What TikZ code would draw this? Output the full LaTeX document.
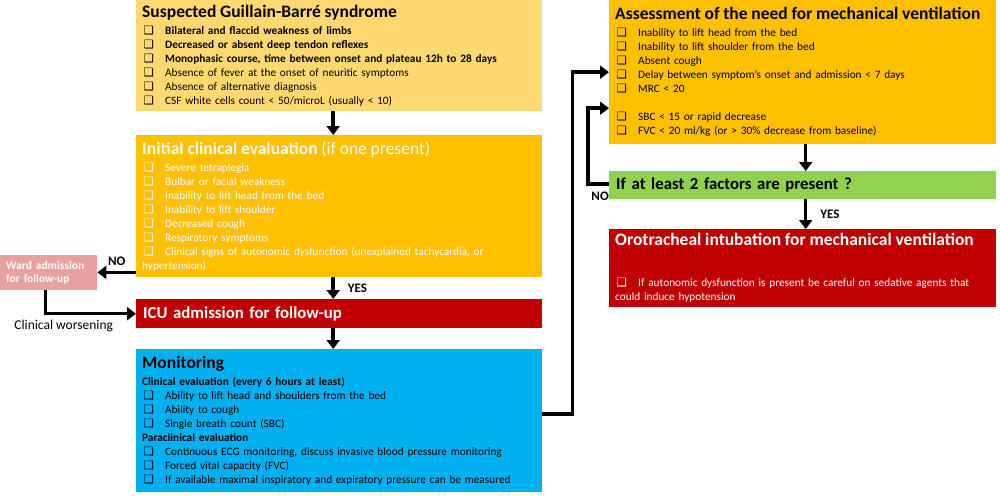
\documentclass[tikz,border=0pt]{standalone}
\usepackage{fontspec}
\setmainfont{Carlito}
\newfontfamily\dingfont{DejaVu Sans}
\usepackage{xcolor}
\usetikzlibrary{arrows.meta,positioning}
\definecolor{paleamber}{RGB}{255,217,112}
\definecolor{amber}{RGB}{255,192,0}
\definecolor{alarmred}{RGB}{192,0,0}
\definecolor{monblue}{RGB}{0,176,240}
\definecolor{leafgreen}{RGB}{146,208,80}
\definecolor{wardpink}{RGB}{232,160,160}
\newcommand{\chk}{{\dingfont\fontsize{11.5}{11.5}\selectfont ❑}}
\newcommand{\itm}[1]{\par\hangindent=23pt\hangafter=1\noindent\makebox[23pt][l]{\hspace{1.5pt}\chk}#1}
\newcommand{\boxhead}[1]{{\fontsize{17.5}{20}\selectfont\bfseries #1\par}\vspace{3pt}}
\tikzset{
  panel/.style={rectangle, anchor=north west, inner xsep=6pt, inner ysep=2pt, align=left, font=\fontsize{11.3}{14}\selectfont},
  bar/.style={rectangle, anchor=north west, inner xsep=7pt, inner ysep=0pt, align=left, font=\fontsize{16.8}{20}\selectfont\bfseries},
  arr/.style={line width=3.5pt, -{Triangle[length=9pt,width=13pt]}},
  lbl/.style={font=\fontsize{13}{15}\selectfont\bfseries, inner sep=1pt}
}

\begin{document}
\begin{tikzpicture}[x=1pt,y=-1pt]
  \useasboundingbox (0,0) rectangle (1000,495);

  % Left column
  \node[panel, fill=paleamber, text width=394pt, minimum height=111pt] (sgb) at (136,0) {%
    \boxhead{Suspected Guillain-Barré syndrome}%
    \itm{\textbf{Bilateral and flaccid weakness of limbs}}
    \itm{\textbf{Decreased or absent deep tendon reflexes}}
    \itm{\textbf{Monophasic course, time between onset and plateau 12h to 28 days}}
    \itm{Absence of fever at the onset of neuritic symptoms}
    \itm{Absence of alternative diagnosis}
    \itm{CSF white cells count < 50/microL (usually < 10)}};
  \node[panel, fill=amber, text=white, text width=394pt, minimum height=142pt] (ice) at (136,135) {%
    \boxhead{Initial clinical evaluation \mdseries(if one present)}%
    \itm{Severe tetraplegia}
    \itm{Bulbar or facial weakness}
    \itm{Inability to lift head from the bed}
    \itm{Inability to lift shoulder}
    \itm{Decreased cough}
    \itm{Respiratory symptoms}
    \itm{Clinical signs of autonomic dysfunction (unexplained tachycardia, or\newline hypertension)}};
  \node[bar, fill=alarmred, text=white, text width=392pt, minimum height=29pt] (icu) at (136,299) {ICU admission for follow-up};
  \node[panel, fill=monblue, text width=394pt, minimum height=143pt] (mon) at (136,349) {%
    \vspace{3pt}{\fontsize{17.5}{20}\selectfont\bfseries Monitoring\par}%
    \noindent\textbf{Clinical evaluation (every 6 hours at least)}
    \itm{Ability to lift head and shoulders from the bed}
    \itm{Ability to cough}
    \itm{Single breath count (SBC)}
    \par\noindent\textbf{Paraclinical evaluation}
    \itm{Continuous ECG monitoring, discuss invasive blood pressure monitoring}
    \itm{Forced vital capacity (FVC)}
    \itm{If available maximal inspiratory and expiratory pressure can be measured}};
  \node[panel, fill=wardpink, text=white, text width=85pt, minimum height=35pt, inner xsep=6pt, font=\fontsize{11.5}{13}\selectfont\bfseries] (ward) at (0,255) {Ward admission\\for follow-up};

  % Right column
  \node[panel, fill=amber, text width=375pt, minimum height=144pt] (ass) at (609,0) {%
    \boxhead{Assessment of the need for mechanical ventilation}%
    \itm{Inability to lift head from the bed}
    \itm{Inability to lift shoulder from the bed}
    \itm{Absent cough}
    \itm{Delay between symptom’s onset and admission < 7 days}
    \itm{MRC < 20}
    \par\mbox{}
    \itm{SBC < 15 or rapid decrease}
    \itm{FVC < 20 ml/kg (or > 30\% decrease from baseline)}};
  \node[bar, fill=leafgreen, text width=373pt, minimum height=28pt] (grn) at (609,171) {If at least 2 factors are present ?};
  \node[panel, fill=alarmred, text=white, text width=375pt, minimum height=78pt] (oti) at (609,229) {%
    \boxhead{Orotracheal intubation for mechanical ventilation}%
    \vspace{10pt}\mbox{}
    \itm{If autonomic dysfunction is present be careful on sedative agents that\newline could induce hypotension}};

  % Connectors
  \draw[arr] ([xshift=-6pt]sgb.south) -- ([xshift=-6pt]ice.north);
  \draw[arr] ([yshift=5pt]ice.south west) -- ([yshift=5pt]ice.south west -| ward.east) node[lbl, midway, above=4pt] {NO};
  \draw[arr] ([xshift=-6pt]ice.south) -- ([xshift=-6pt]icu.north) node[lbl, midway, right=12pt] {YES};
  \draw[arr] ([xshift=-3pt]ward.south) |- (icu.west) node[pos=0.5, anchor=north, xshift=18pt, yshift=-4pt, inner sep=1pt, font=\fontsize{13.5}{15}\selectfont] {Clinical worsening};
  \draw[arr] ([xshift=-6pt]icu.south) -- ([xshift=-6pt]mon.north);
  \draw[arr] ([yshift=6.5pt]mon.east) -- ++(30,0) |- (ass.west);
  \draw[arr] ([xshift=3pt]ass.south) -- ([xshift=3pt]grn.north);
  \draw[arr] ([yshift=1pt]grn.west) -- ++(-21,0) |- ([yshift=-36pt]ass.west);
  \node[lbl, anchor=north east] (nolbl) at ([xshift=1pt,yshift=-6pt]grn.west) {NO};
  \draw[arr] ([xshift=3pt]grn.south) -- ([xshift=3pt]oti.north) node[lbl, midway, right=12pt] {YES};
\end{tikzpicture}
\end{document}
